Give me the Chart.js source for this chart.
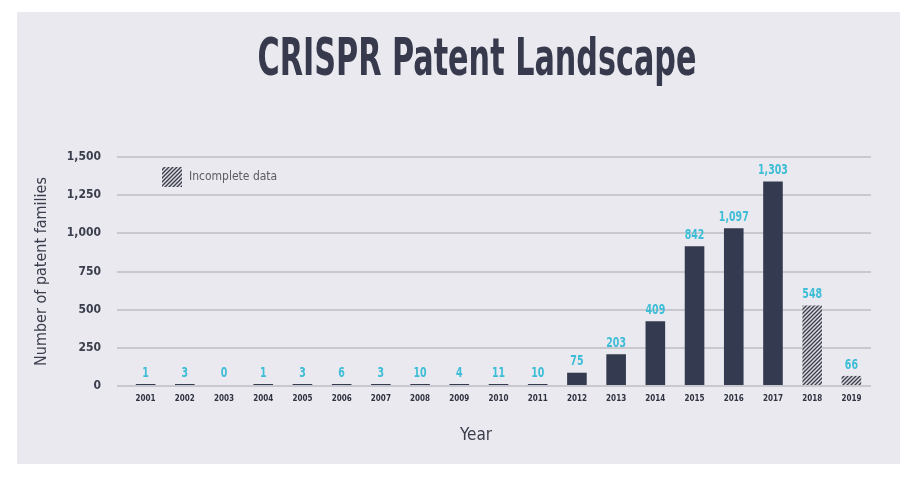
<!DOCTYPE html>
<html>
<head>
<meta charset="utf-8">
<title>CRISPR Patent Landscape</title>
<script src="https://cdn.jsdelivr.net/npm/chart.js@4/dist/chart.umd.min.js"></script>
<style>
  html, body { margin: 0; padding: 0; background: #fff; }
  canvas { display: block; }
</style>
</head>
<body>
<canvas id="patents" width="916" height="483"></canvas>
<script>
// data
const years = ['2001', '2002', '2003', '2004', '2005', '2006', '2007', '2008', '2009', '2010',
               '2011', '2012', '2013', '2014', '2015', '2016', '2017', '2018', '2019'];
// bar heights as drawn (the printed numbers do not always match the bars)
const barHeights = [1, 3, 0, 1, 3, 6, 3, 10, 4, 11, 10, 87, 208, 424, 916, 1034, 1340, 527, 66];
const valueLabels = ['1', '3', '0', '1', '3', '6', '3', '10', '4', '11', '10', '75', '203', '409',
                     '842', '1,097', '1,303', '548', '66'];
const incompleteYears = ['2018', '2019'];
const yMax = 1500;
const yStep = 250;

const FONT = '"Liberation Sans Narrow", "DejaVu Sans Condensed", sans-serif';
const navy = '#343a4f';
const cyan = '#3dbdd6';
const textDark = '#3a3d4b';

function makeHatch() {
    const c = document.createElement('canvas');
    c.width = 4;
    c.height = 4;
    const g = c.getContext('2d');
    g.fillStyle = '#dcdce2';
    g.fillRect(0, 0, 4, 4);
    g.strokeStyle = '#3a3d4a';
    g.lineWidth = 1.3;
    g.beginPath();
    g.moveTo(-1, 5); g.lineTo(5, -1);
    g.moveTo(-1, 1); g.lineTo(1, -1);
    g.moveTo(3, 5); g.lineTo(5, 3);
    g.stroke();
    return g.createPattern(c, 'repeat');
}
const hatch = makeHatch();

const panelPlugin = {
    id: 'panel',
    beforeDraw(chart) {
        const ctx = chart.ctx;
        ctx.save();
        ctx.fillStyle = '#ffffff';
        ctx.fillRect(0, 0, chart.width, chart.height);
        ctx.fillStyle = '#e9e9ef';
        ctx.fillRect(17, 12, 883, 452);
        ctx.restore();
    }
};

const decorPlugin = {
    id: 'decor',
    afterDatasetsDraw(chart) {
        const ctx = chart.ctx;
        const meta = chart.getDatasetMeta(0);
        ctx.save();
        ctx.fillStyle = cyan;
        ctx.font = 'bold 14px ' + FONT;
        ctx.textAlign = 'center';
        ctx.textBaseline = 'bottom';
        meta.data.forEach((bar, i) => {
            ctx.save();
            ctx.translate(bar.x, bar.y - 4);
            ctx.scale(0.75, 1);
            ctx.fillText(valueLabels[i], 0, 0);
            ctx.restore();
        });
        ctx.restore();
    },
    afterDraw(chart) {
        const ctx = chart.ctx;
        ctx.save();
        // title, squeezed to the condensed look of the original
        ctx.fillStyle = '#363a4c';
        ctx.font = 'bold 52px ' + FONT;
        ctx.textAlign = 'center';
        ctx.textBaseline = 'alphabetic';
        const w = ctx.measureText('CRISPR Patent Landscape').width;
        ctx.translate(477, 75);
        ctx.scale(439 / w, 1);
        ctx.fillText('CRISPR Patent Landscape', 0, 0);
        ctx.restore();

        // legend
        ctx.save();
        ctx.fillStyle = hatch;
        ctx.fillRect(162, 167, 20, 20);
        ctx.fillStyle = '#5a5c66';
        ctx.font = '12px ' + FONT;
        ctx.textBaseline = 'middle';
        ctx.fillText('Incomplete data', 189, 177);

        // x axis title
        ctx.fillStyle = textDark;
        ctx.font = '17px ' + FONT;
        ctx.textAlign = 'center';
        ctx.fillText('Year', 476, 436);
        ctx.restore();
    }
};

new Chart(document.getElementById('patents'), {
    type: 'bar',
    data: {
        labels: years,
        datasets: [{
            data: barHeights,
            backgroundColor: (c) => {
                if (incompleteYears.includes(years[c.dataIndex])) return hatch;
                return c.raw === 0 ? 'rgba(0,0,0,0)' : navy;
            },
            borderWidth: 0,
            barPercentage: 0.5,
            categoryPercentage: 1.0,
            minBarLength: 2
        }]
    },
    options: {
        responsive: false,
        animation: false,
        devicePixelRatio: 1,
        layout: { padding: { left: 17, right: 45, top: 157, bottom: 0 } },
        plugins: {
            legend: { display: false },
            tooltip: { enabled: false },
            title: { display: false }
        },
        scales: {
            x: {
                grid: { display: false, drawTicks: false },
                border: { display: false },
                ticks: {
                    autoSkip: false,
                    maxRotation: 0,
                    padding: 8,
                    color: '#2f3240',
                    font: { family: FONT, size: 8, weight: 'bold' }
                },
                afterFit(scale) { scale.height = 97; }
            },
            y: {
                min: 0,
                max: yMax,
                grid: { color: '#c8c8ce', lineWidth: 2, drawTicks: true, tickLength: 9 },
                border: { display: false },
                ticks: {
                    stepSize: yStep,
                    padding: 16,
                    color: textDark,
                    font: { family: FONT, size: 12, weight: 'bold' },
                    callback: (v) => v.toLocaleString('en-US')
                },
                title: {
                    display: true,
                    text: 'Number of patent families',
                    color: textDark,
                    font: { family: FONT, size: 16 },
                    padding: { top: 15, bottom: 0 }
                },
                afterFit(scale) { scale.width = 109; }
            }
        }
    },
    plugins: [panelPlugin, decorPlugin]
});
</script>
</body>
</html>
